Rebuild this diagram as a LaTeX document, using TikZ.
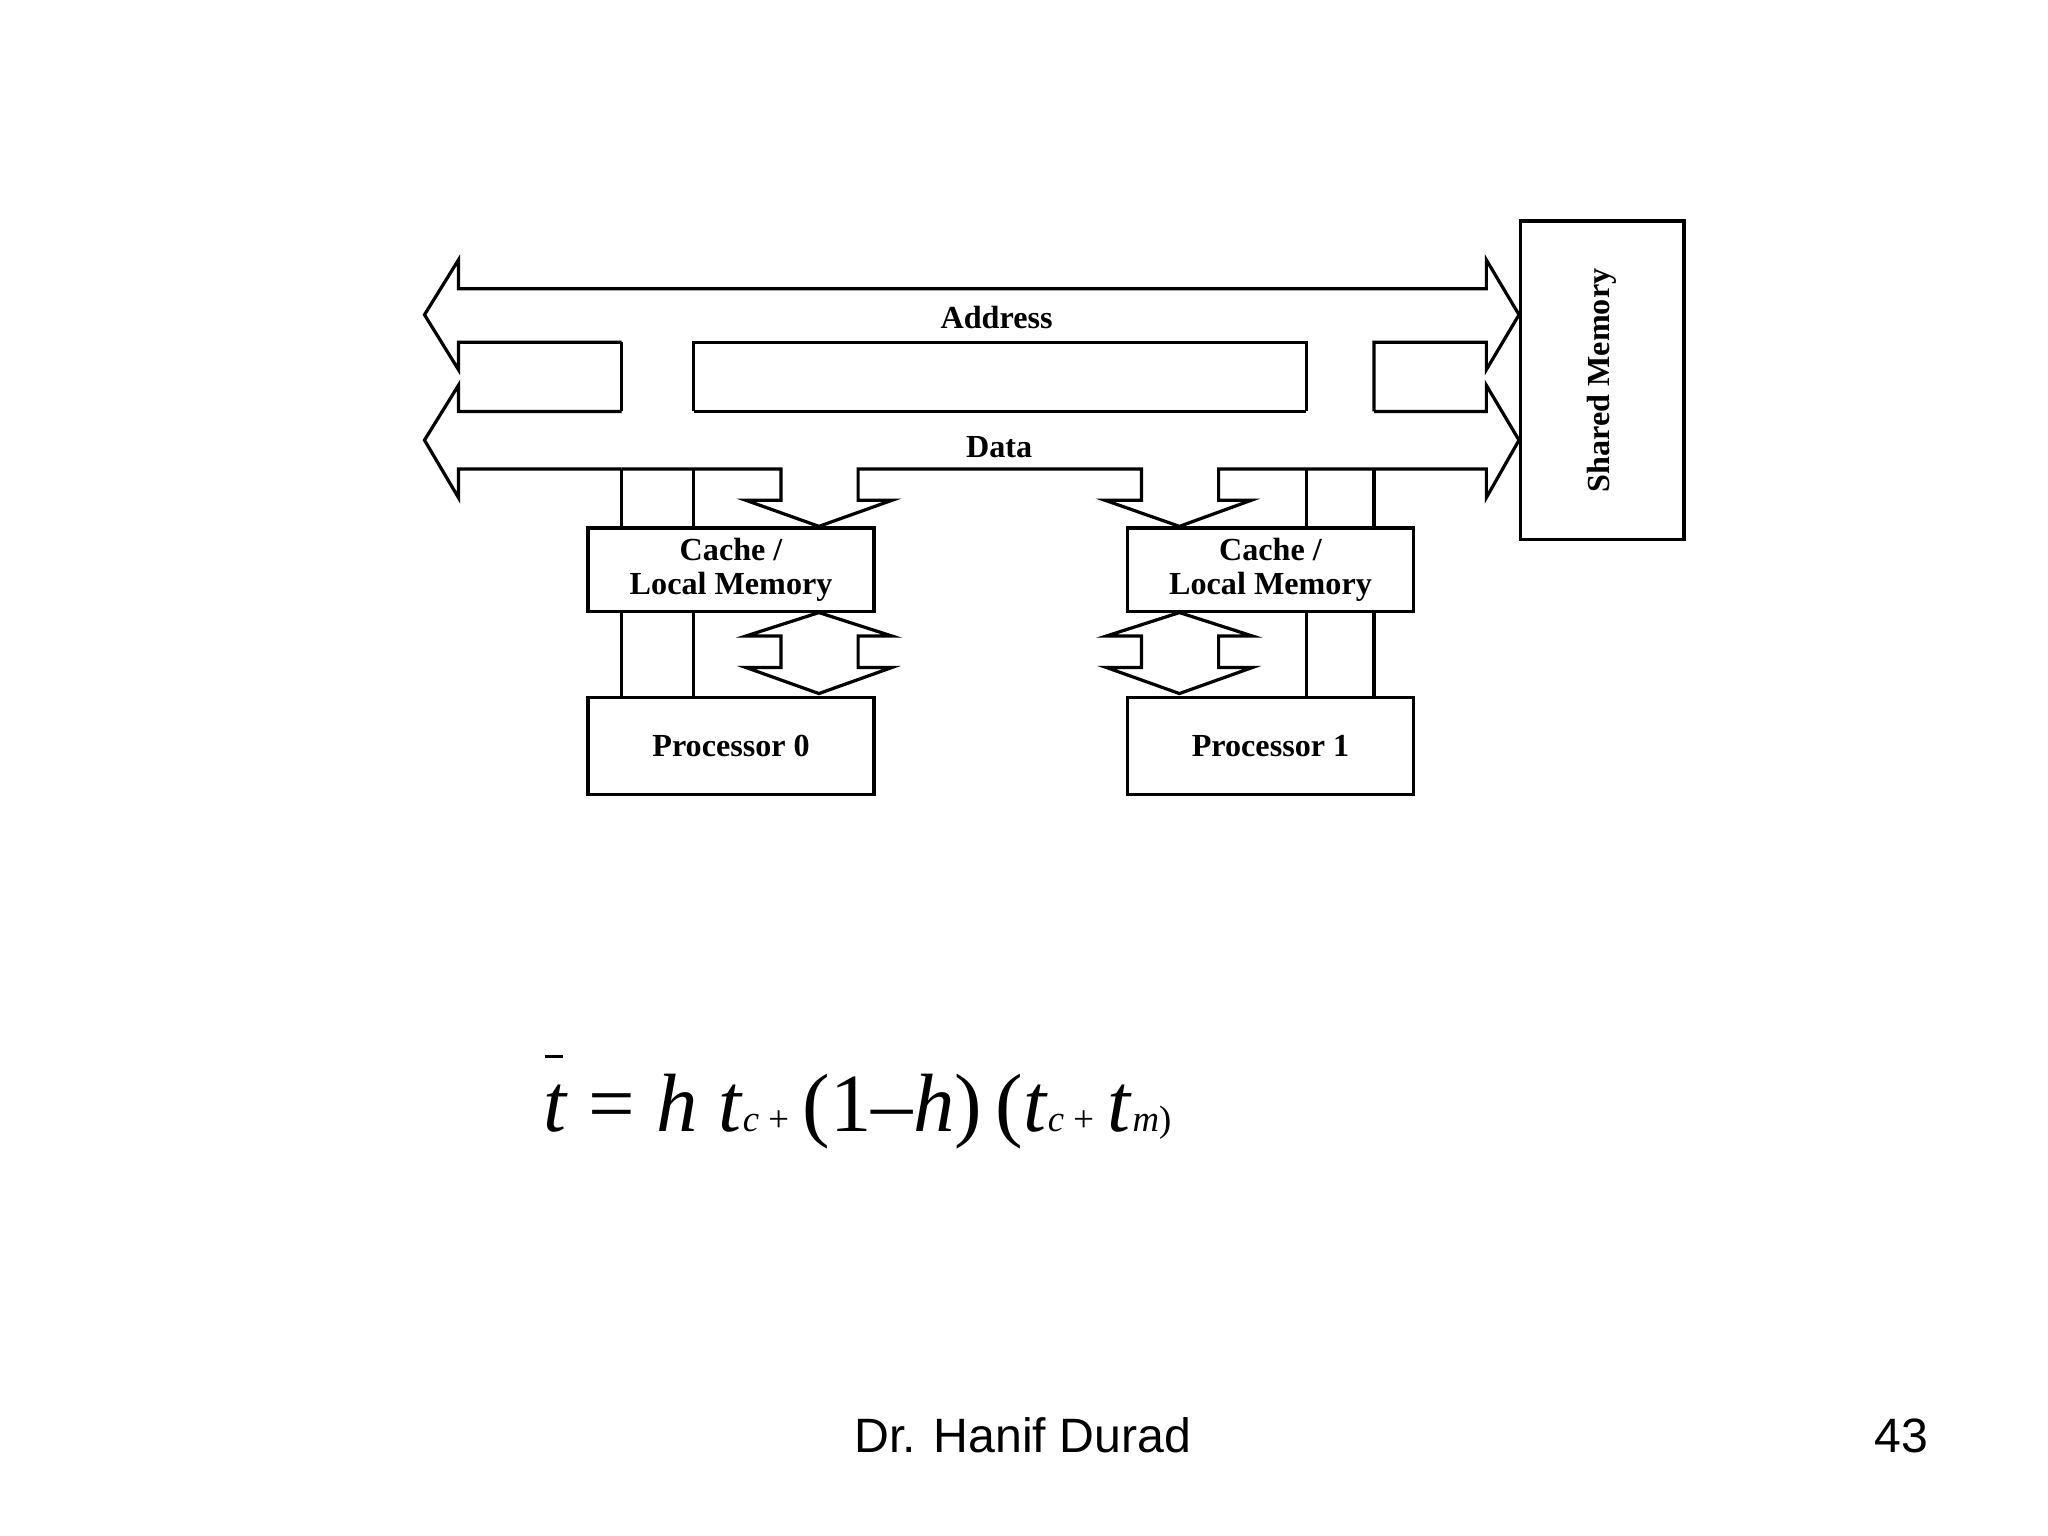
\documentclass[tikz,border=0pt]{standalone}
\usepackage{fontspec}
\setmainfont{Liberation Serif}
\newfontfamily\footfont{Liberation Sans}
\newcommand{\smsub}[1]{{\fontsize{8}{8}\selectfont #1}}
\begin{document}
\begin{tikzpicture}[x=0.01cm,y=-0.01cm,line width=0.7pt,
  box/.style={draw,minimum width=219*0.01cm,minimum height=64*0.01cm,anchor=north west,inner sep=0,align=center,font=\bfseries\fontsize{7}{7.5}\selectfont},
  lbl/.style={font=\bfseries\fontsize{7}{7.5}\selectfont}]
\useasboundingbox (0,0) rectangle (1568,1176);
% Address bus
\draw (476,262)--(351,262)--(351,283)--(325,241)--(351,199)--(351,221)--(1138,221)--(1138,199)--(1163,241)--(1138,283)--(1138,262)--(1052,262)--(1052,315);
\draw (476,262)--(476,315);
\draw (531,315)--(531,262)--(1000,262)--(1000,315);
\node[lbl] (addr) at (763,243) {Address};
% Data bus
\draw (476,315)--(351,315)--(351,295)--(325,337)--(351,381)--(351,359)--(476,359);
\draw (531,315)--(1000,315);
\draw (1052,315)--(1138,315)--(1138,295)--(1163,337)--(1138,381)--(1138,359)--(1052,359);
\draw (476,359)--(598,359)--(598,383)--(571,383)--(627,403)--(683,383)--(657,383)--(657,359)--(874,359)--(874,383)--(846,383)--(903,403)--(958,383)--(933,383)--(933,359)--(1052,359);
\node[lbl] (data) at (765,342) {Data};
% boxes
\node[box] (c0) at (449,403) {Cache /\\Local Memory};
\node[box] (c1) at (862,403) {Cache /\\Local Memory};
\node[box,minimum height=74*0.01cm] (p0) at (449,533) {Processor 0};
\node[box,minimum height=74*0.01cm] (p1) at (862,533) {Processor 1};
\node[draw,minimum width=125*0.01cm,minimum height=244*0.01cm,anchor=north west,inner sep=0] (sm) at (1163,168) {};
\node[lbl,rotate=90] at (sm.center) {Shared Memory};
% verticals
\foreach \x in {476,531,1000,1052}{
  \draw (\x,359)--(\x,403);
  \draw (\x,467)--(\x,533);}
% double arrows
\foreach \c in {627,903}{
  \draw (\c-29,511)--(\c-56,511)--(\c,531)--(\c+56,511)--(\c+30,511)--(\c+30,487)--(\c+56,487)--(\c,469)--(\c-56,487)--(\c-29,487)--cycle;}
% formula
\node[anchor=base west,inner sep=0,font=\fontsize{18}{20}\selectfont] (f) at (415,866)
 {\textit{t} = \textit{h t}\smsub{\textit{c} +}\,(1\textendash\textit{h})\,(\textit{t}\smsub{\textit{c} +}\,\textit{t}\smsub{\textit{m})}};
\draw[line width=0.8pt] (417,809)--(431,809);
\node[font=\footfont\fontsize{10.5}{12}\selectfont] (auth) at (783,1099) {Dr. Hanif Durad};
\node[font=\footfont\fontsize{10.5}{12}\selectfont] (pg) at (1456,1099) {43};
\end{tikzpicture}
\end{document}
